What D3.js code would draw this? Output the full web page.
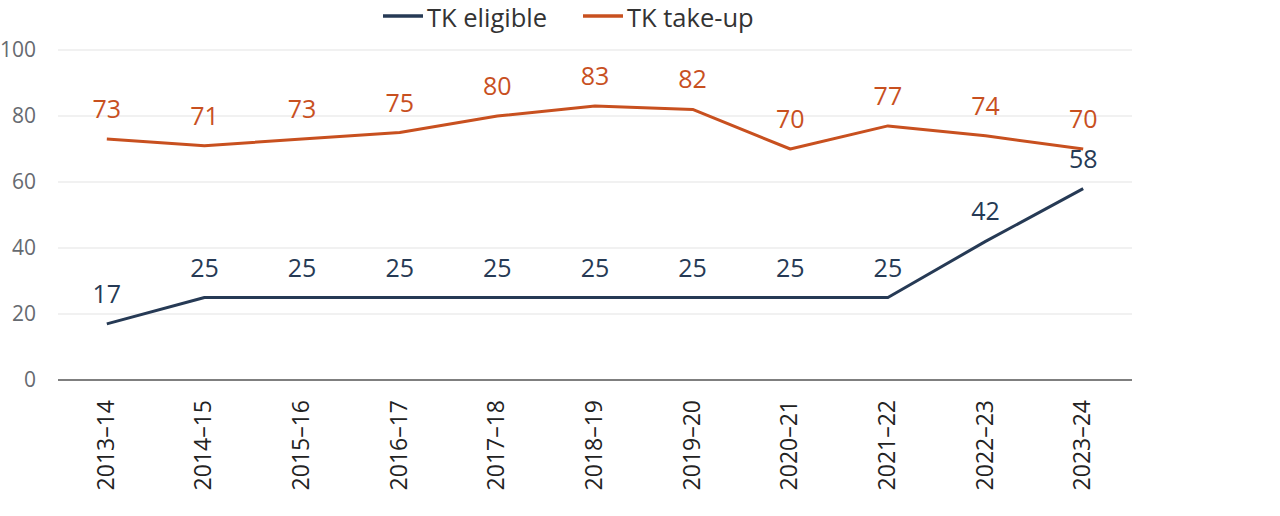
<!DOCTYPE html>
<html>
<head>
<meta charset="utf-8">
<script src="https://cdn.jsdelivr.net/npm/d3@7"></script>
<style>
  body { margin: 0; background: #fff; }
  text { font-family: "Open Sans", sans-serif; }
</style>
</head>
<body>
<div id="chart"></div>
<script>
// data
const years = ["2013–14", "2014–15", "2015–16", "2016–17", "2017–18", "2018–19",
               "2019–20", "2020–21", "2021–22", "2022–23", "2023–24"];
const eligible = [17, 25, 25, 25, 25, 25, 25, 25, 25, 42, 58];
const takeUp = [73, 71, 73, 75, 80, 83, 82, 70, 77, 74, 70];
const yTicks = [0, 20, 40, 60, 80, 100];

const W = 1280, H = 516;
const margin = {top: 50, right: 148, bottom: 136, left: 58};
const gw = W - margin.left - margin.right;
const gh = H - margin.top - margin.bottom;

const navy = "#263a55", orange = "#c8501f";

const svg = d3.select("#chart").append("svg")
  .attr("width", W).attr("height", H);

const g = svg.append("g")
  .attr("transform", "translate(" + margin.left + "," + margin.top + ")");

const x = d3.scalePoint().domain(years).range([0, gw]).padding(0.5);
const y = d3.scaleLinear().domain([0, 100]).range([gh, 0]);

// gridlines
g.append("g").selectAll("line")
  .data(yTicks.filter(d => d > 0))
  .enter().append("line")
  .attr("x1", 0).attr("x2", gw)
  .attr("y1", d => y(d)).attr("y2", d => y(d))
  .attr("stroke", "#e3e3e3").attr("stroke-width", 1.2);

// y labels
g.append("g").selectAll("text")
  .data(yTicks)
  .enter().append("text")
  .attr("x", -22).attr("y", d => y(d) + 7)
  .attr("text-anchor", "end")
  .attr("font-size", 21)
  .attr("fill", "#666a70")
  .text(d => d);

// x axis line
g.append("line")
  .attr("x1", 0).attr("x2", gw)
  .attr("y1", gh).attr("y2", gh)
  .attr("stroke", "#555").attr("stroke-width", 1.5);

// x labels
g.append("g").selectAll("text")
  .data(years)
  .enter().append("text")
  .attr("transform", d => "translate(" + (x(d) + 7) + "," + (gh + 20) + ")rotate(-90)")
  .attr("text-anchor", "end")
  .attr("font-size", 23)
  .attr("fill", "#222")
  .text(d => d);

const line = d3.line().x((d, i) => x(years[i])).y(d => y(d));

function series(vals, color) {
  g.append("path")
    .datum(vals)
    .attr("d", line)
    .attr("fill", "none")
    .attr("stroke", color)
    .attr("stroke-width", 3)
    .attr("stroke-linejoin", "round");
  g.append("g").selectAll("text")
    .data(vals)
    .enter().append("text")
    .attr("x", (d, i) => x(years[i]))
    .attr("y", d => y(d) - 21)
    .attr("text-anchor", "middle")
    .attr("font-size", 25)
    .attr("fill", color)
    .text(d => d);
}
series(takeUp, orange);
series(eligible, navy);

// legend
const legend = [
  {name: "TK eligible", color: navy, x: 383},
  {name: "TK take-up", color: orange, x: 583}
];
const lg = svg.append("g").selectAll("g")
  .data(legend).enter().append("g")
  .attr("transform", d => "translate(" + d.x + ",16)");
lg.append("line")
  .attr("x1", 0).attr("x2", 40)
  .attr("stroke", d => d.color).attr("stroke-width", 3.5);
lg.append("text")
  .attr("x", 44).attr("y", 11)
  .attr("font-size", 25.5)
  .attr("fill", "#333")
  .text(d => d.name);
</script>
</body>
</html>
